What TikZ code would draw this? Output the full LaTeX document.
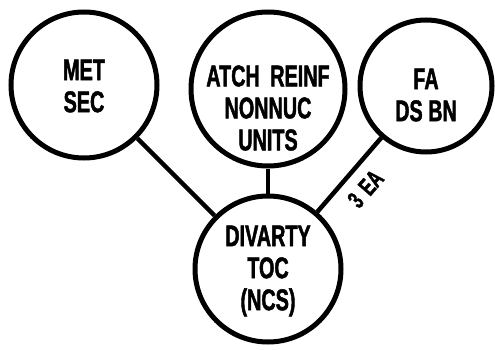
\documentclass[tikz,border=0pt]{standalone}
\usepackage{fontspec}
\setmainfont[FakeStretch=0.66, BoldFeatures={FakeBold=1.5}]{Liberation Sans}
\usepackage{tikz}
\tikzstyle{unit} = [circle, draw, line width=5pt, inner sep=0pt]
\tikzstyle{caption} = [align=center, font=\bfseries\fontsize{30}{32}\selectfont]
\tikzstyle{link} = [draw, line width=4.5pt]

\begin{document}
\begin{tikzpicture}[x=1pt, y=-1pt]
            \useasboundingbox (0,0) rectangle (495,350);

            \node[unit, minimum size=146pt] (met) at (84,85) {};
            \node[unit, minimum size=154pt] (atch) at (268,89) {};
            \node[unit, minimum size=132pt] (fa) at (426,86) {};
            \node[unit, minimum size=146pt] (divarty) at (268,269) {};

            \node[caption] (met_txt) at (84,86) {MET\\SEC};
            \node[caption] (atch_txt) at (268,108) {ATCH\hspace{0.35em}REINF\\NONNUC\\UNITS};
            \node[caption] (fa_txt) at (426,95) {FA\\DS BN};
            \node[caption] (divarty_txt) at (268,271) {DIVARTY\\TOC\\(NCS)};

            \draw[link] (met) -- (divarty);
            \draw[link] (atch) -- (divarty);
            \draw[link] (fa) -- (divarty) node[midway, sloped, below=7pt, font=\bfseries\fontsize{25}{25}\selectfont] (ea) {3\hspace{0.3em}EA};
        \end{tikzpicture}
\end{document}
